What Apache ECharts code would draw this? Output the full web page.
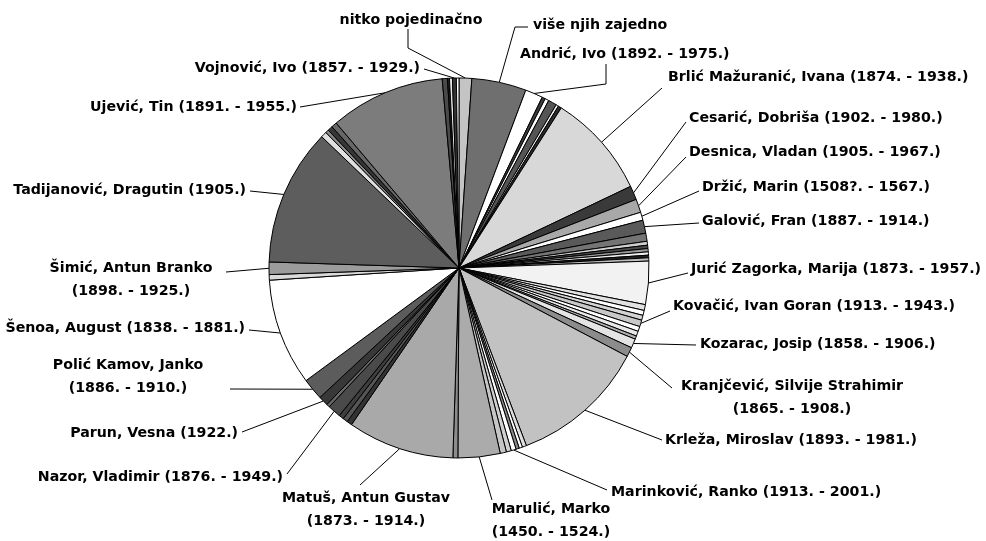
<!DOCTYPE html>
<html>
<head>
<meta charset="utf-8">
<script src="https://cdn.jsdelivr.net/npm/echarts@6/dist/echarts.min.js"></script>
<style>
html,body{margin:0;padding:0;background:#fff;}
#chart{width:986px;height:541px;}
</style>
</head>
<body>
<div id="chart"></div>
<script>
// Slice names in drawing order (clockwise from 12 o'clock); '' = unlabeled author
const authors = [
  'nitko pojedinačno', 'više njih zajedno', 'Andrić, Ivo (1892. - 1975.)', '', '', '', '', '',
  'Brlić Mažuranić, Ivana (1874. - 1938.)', 'Cesarić, Dobriša (1902. - 1980.)',
  'Desnica, Vladan (1905. - 1967.)', 'Držić, Marin (1508?. - 1567.)', 'Galović, Fran (1887. - 1914.)',
  '', '', '', '', '', '', '',
  'Jurić Zagorka, Marija (1873. - 1957.)', '', '', '', 'Kovačić, Ivan Goran (1913. - 1943.)', '', '', '',
  'Kozarac, Josip (1858. - 1906.)', 'Kranjčević, Silvije Strahimir\n(1865. - 1908.)',
  'Krleža, Miroslav (1893. - 1981.)', '', '', '', 'Marinković, Ranko (1913. - 2001.)', '', '',
  'Marulić, Marko\n(1450. - 1524.)', '', 'Matuš, Antun Gustav\n(1873. - 1914.)', '', '', '',
  'Nazor, Vladimir (1876. - 1949.)', '', 'Parun, Vesna (1922.)', 'Polić Kamov, Janko\n(1886. - 1910.)',
  'Šenoa, August (1838. - 1881.)', '', 'Šimić, Antun Branko\n(1898. - 1925.)',
  'Tadijanović, Dragutin (1905.)', '', '', '', '', 'Ujević, Tin (1891. - 1955.)', '', '', '',
  'Vojnović, Ivo (1857. - 1929.)', ''
];
// Share of answers (%) per slice
const shares = [
  1.08, 4.64, 1.50, 0.28, 0.33, 0.72, 0.22, 0.28,
  8.89, 1.19,
  1.14, 0.69, 1.11,
  0.69, 0.33, 0.28, 0.28, 0.28, 0.22, 0.28,
  3.67, 0.50, 0.42, 0.42, 0.56, 0.42, 0.42, 0.28,
  0.78, 0.81,
  11.53, 0.36, 0.28, 0.28, 0.42, 0.42, 0.53,
  3.58, 0.42, 9.06, 0.44, 0.42, 0.42,
  1.11, 0.28, 0.83, 1.83,
  9.08, 0.47, 1.06,
  11.64, 0.50, 0.28, 0.42, 0.47, 9.78, 0.44, 0.17, 0.25,
  0.33, 0.22
];
// Grey shade of each slice
const shades = [
  '#c4c4c4', '#6f6f6f', '#ffffff', '#3c3c3c', '#ffffff', '#555555', '#f0f0f0', '#2a2a2a',
  '#d8d8d8', '#3a3a3a',
  '#a8a8a8', '#ffffff', '#5a5a5a',
  '#747474', '#cfcfcf', '#4a4a4a', '#9a9a9a', '#eeeeee', '#222222', '#bdbdbd',
  '#f2f2f2', '#e2e2e2', '#ffffff', '#d2d2d2', '#c8c8c8', '#ffffff', '#e8e8e8', '#b0b0b0',
  '#e4e4e4', '#8c8c8c',
  '#c2c2c2', '#dddddd', '#ffffff', '#8a8a8a', '#ffffff', '#d0d0d0', '#c6c6c6',
  '#ababab', '#8c8c8c', '#a9a9a9', '#333333', '#555555', '#3e3e3e',
  '#4a4a4a', '#6a6a6a', '#383838', '#5c5c5c',
  '#ffffff', '#dadada', '#9c9c9c',
  '#5d5d5d', '#e0e0e0', '#8a8a8a', '#363636', '#676767', '#7c7c7c', '#4a4a4a', '#1e1e1e', '#e6e6e6',
  '#333333', '#ffffff'
];

// Label placement (text anchor + leader bend points), keyed by slice index
const labelPlacement = {
  0:  {x: 411, y: 20,  align: 'center', bend: [[408, 48], [408, 29]]},
  1:  {x: 533, y: 25,  align: 'left',   bend: [[515, 27], [528, 27]]},
  2:  {x: 520, y: 54,  align: 'left',   bend: [[606, 84], [606, 64]]},
  8:  {x: 668, y: 77,  align: 'left',   bend: [[662, 88]]},
  9:  {x: 689, y: 118, align: 'left',   bend: [[686, 122]]},
  10: {x: 689, y: 152, align: 'left',   bend: [[686, 157]]},
  11: {x: 702, y: 187, align: 'left',   bend: [[699, 191]]},
  12: {x: 702, y: 221, align: 'left',   bend: [[699, 223]]},
  20: {x: 691, y: 269, align: 'left',   bend: [[688, 273]]},
  24: {x: 673, y: 306, align: 'left',   bend: [[670, 311]]},
  28: {x: 700, y: 344, align: 'left',   bend: [[696, 345]]},
  29: {x: 792, y: 398, align: 'center', bend: [[672, 388]]},
  30: {x: 665, y: 440, align: 'left',   bend: [[662, 440]]},
  34: {x: 611, y: 492, align: 'left',   bend: [[607, 490]]},
  37: {x: 551, y: 521, align: 'center', bend: [[492, 500]]},
  39: {x: 366, y: 510, align: 'center', bend: [[360, 485]]},
  43: {x: 283, y: 477, align: 'right',  bend: [[287, 474]]},
  45: {x: 238, y: 433, align: 'right',  bend: [[242, 432]]},
  46: {x: 128, y: 377, align: 'center', bend: [[230, 389]]},
  47: {x: 245, y: 328, align: 'right',  bend: [[249, 330]]},
  49: {x: 131, y: 280, align: 'center', bend: [[226, 272]]},
  50: {x: 246, y: 190, align: 'right',  bend: [[250, 191]]},
  55: {x: 297, y: 107, align: 'right',  bend: [[300, 107]]},
  59: {x: 420, y: 68,  align: 'right',  bend: [[424, 69]]}
};

const data = authors.map((name, i) => {
  const labeled = name !== '';
  return {
    name: name,
    value: shares[i],
    itemStyle: {color: shades[i]},
    label: {show: labeled},
    labelLine: {show: labeled}
  };
});

const chart = echarts.init(document.getElementById('chart'), null, {renderer: 'canvas'});
chart.setOption({
  backgroundColor: '#ffffff',
  animation: false,
  series: [{
    type: 'pie',
    center: [459, 268],
    radius: 190,
    startAngle: 90,
    clockwise: true,
    avoidLabelOverlap: false,
    minShowLabelAngle: 0,
    data: data,
    itemStyle: {borderColor: '#000000', borderWidth: 1},
    emphasis: {disabled: true},
    label: {
      show: true,
      position: 'outside',
      formatter: '{b}',
      color: '#000000',
      fontFamily: 'DejaVu Sans, Verdana, sans-serif',
      fontWeight: 'bold',
      fontSize: 14.2,
      lineHeight: 23
    },
    labelLine: {
      show: true,
      length: 10,
      length2: 10,
      lineStyle: {color: '#000000', width: 1}
    },
    labelLayout: function (params) {
      const p = labelPlacement[params.dataIndex];
      if (!p || !params.labelLinePoints) return {};
      const start = params.labelLinePoints[0];
      const pts = [start].concat(p.bend);
      while (pts.length < 3) pts.push(pts[pts.length - 1]);
      return {
        x: p.x,
        y: p.y,
        align: p.align,
        verticalAlign: 'middle',
        labelLinePoints: pts
      };
    }
  }]
});
</script>
</body>
</html>
